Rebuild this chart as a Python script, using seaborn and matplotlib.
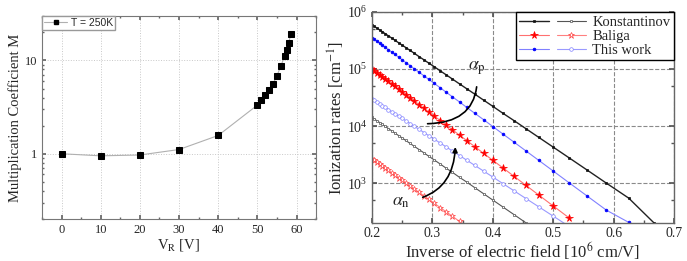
import numpy as np
import pandas as pd
import seaborn as sns
import matplotlib.pyplot as plt
from matplotlib.ticker import LogLocator, MultipleLocator, NullFormatter, FixedLocator
from matplotlib.legend_handler import HandlerTuple
from matplotlib.lines import Line2D

# left panel: multiplication coefficient vs reverse bias
vr = [0, 10, 20, 30, 40, 50, 51, 52, 53, 54, 55, 56, 57, 57.5, 58, 58.5]
mult = [1.0, 0.95, 0.97, 1.11, 1.57, 3.32, 3.76, 4.29, 4.85, 5.62, 6.85, 8.7, 11.2, 12.8, 15.3, 19.0]

# right panel: ionization rates vs inverse field (10^6 cm/V)
inv_field = [0.200, 0.204, 0.208, 0.213, 0.217, 0.222, 0.227, 0.233, 0.238, 0.244,
             0.250, 0.256, 0.263, 0.270, 0.278, 0.286, 0.294, 0.303, 0.313, 0.323,
             0.333, 0.345, 0.357, 0.370, 0.385, 0.400, 0.417, 0.435, 0.455, 0.476,
             0.500, 0.526, 0.556, 0.588, 0.625, 0.667]

konst_p = [597000, 559000, 523000, 482000, 451000, 416000, 383000, 347000, 319000, 289000,
           262000, 238000, 212000, 189000, 165000, 145000, 127000, 110000, 92900, 78900,
           66900, 54800, 45000, 36400, 28400, 22200, 16700, 12500, 8980, 6350,
           4280, 2790, 1700, 1000, 546, 200]
konst_n = [14200, 13300, 12400, 11500, 10700, 9860, 9060, 8200, 7540, 6820,
           6180, 5590, 4970, 4420, 3870, 3390, 2960, 2550, 2160, 1820,
           1550, 1260, 1040, 834, 649, 505, 380, 281, 201]
baliga_p = [100000, 92900, 86300, 78700, 73100, 66700, 60800, 54500, 49700, 44500,
            39800, 35600, 31300, 27500, 23800, 20500, 17700, 15000, 12500, 10400,
            8630, 6920, 5550, 4370, 3310, 2510, 1840, 1320, 912, 619,
            398, 247]
baliga_n = [2690, 2510, 2340, 2140, 2000, 1830, 1680, 1510, 1380, 1250,
            1120, 1010, 893, 791, 687, 597, 520, 444, 372, 313,
            262, 213]
work_p = [356000, 332000, 309000, 282000, 263000, 240000, 219000, 197000, 180000, 162000,
          145000, 130000, 115000, 101000, 87800, 76100, 65900, 56100, 46900, 39100,
          32700, 26400, 21200, 16800, 12900, 9820, 7230, 5240, 3660, 2510,
          1630, 1020, 596, 336, 205]
work_n = [29900, 28100, 26400, 24400, 22900, 21200, 19500, 17800, 16400, 15000,
          13600, 12400, 11100, 9930, 8750, 7710, 6790, 5890, 5040, 4300,
          3670, 3040, 2520, 2050, 1620, 1280, 977, 735, 536, 385,
          264, 175]

sns.set_theme(style="ticks")
plt.rcParams['font.family'] = ['Liberation Serif', 'DejaVu Serif']
plt.rcParams['mathtext.fontset'] = 'stix'
plt.rcParams['xtick.direction'] = 'in'
plt.rcParams['ytick.direction'] = 'in'

fig = plt.figure(figsize=(6.87, 2.61), dpi=100)
ax1 = fig.add_axes([0.0611, 0.161, 0.399, 0.778])
ax2 = fig.add_axes([0.5415, 0.1456, 0.4396, 0.8084])

# ---- left panel
df_m = pd.DataFrame({'vr': vr, 'M': mult})
sns.lineplot(data=df_m, x='vr', y='M', ax=ax1, color='#b0b0b0', lw=0.8,
             marker='s', markersize=3.7, markerfacecolor='black', markeredgecolor='black')
ax1.set_yscale('log')
ax1.set_xlim(-5, 65)
ax1.set_ylim(0.2, 30)
ax1.xaxis.set_major_locator(MultipleLocator(10))
ax1.xaxis.set_minor_locator(MultipleLocator(5))
ax1.yaxis.set_major_locator(FixedLocator([1, 10]))
ax1.yaxis.set_major_formatter(plt.FuncFormatter(lambda v, p: '%g' % v))
ax1.yaxis.set_minor_locator(LogLocator(subs=np.arange(2, 10)))
ax1.yaxis.set_minor_formatter(NullFormatter())
ax1.grid(True, which='major', ls=':', color='#c8c8c8', lw=0.7)
ax1.tick_params(which='both', top=True, right=True, labelsize=9, color='#666666')
ax1.tick_params(which='major', length=3)
ax1.tick_params(which='minor', length=1.5)
for s in ax1.spines.values():
    s.set_color('#777777')
    s.set_linewidth(0.8)
ax1.set_xlabel('V$_\\mathrm{R}$ [V]', fontsize=10.5, labelpad=1)
ax1.set_ylabel('Multiplication Coefficient M', fontsize=10.5, labelpad=2)
h_m = Line2D([], [], color='#b0b0b0', lw=0.8, marker='s', markersize=3.5,
             markerfacecolor='black', markeredgecolor='black')
ax1.legend([h_m], ['T = 250K'], loc='upper left', borderaxespad=0, fancybox=False,
           edgecolor='#999999', framealpha=1,
           prop={'family': 'Liberation Sans', 'size': 7.5},
           handlelength=2.2, handletextpad=0.4, borderpad=0.2)

# ---- right panel
def draw(y, color, marker, ms, mfc, mec, lw=0.8):
    d = pd.DataFrame({'x': inv_field[:len(y)], 'y': y})
    sns.lineplot(data=d, x='x', y='y', ax=ax2, color=color, lw=lw, marker=marker,
                 markersize=ms, markerfacecolor=mfc, markeredgecolor=mec,
                 markeredgewidth=0.5)
    return ax2.lines[-1]

l_kp = draw(konst_p, '#222222', 's', 1.7, '#111111', '#111111', lw=1.0)
l_kn = draw(konst_n, '#555555', 's', 2.0, 'white', '#555555', lw=0.8)
l_bp = draw(baliga_p, '#ff7070', '*', 5.5, '#ff0000', '#ff0000')
l_bn = draw(baliga_n, '#ff8080', '*', 5.0, 'white', '#ff4040')
l_wp = draw(work_p, '#8080ff', 'o', 2.0, '#0000ff', '#0000ff')
l_wn = draw(work_n, '#9a9aff', 'o', 2.6, 'white', '#8080ff')

ax2.set_yscale('log')
ax2.set_xlim(0.2, 0.7)
ax2.set_ylim(200, 1e6)
ax2.xaxis.set_major_locator(MultipleLocator(0.1))
ax2.xaxis.set_minor_locator(MultipleLocator(0.05))
ax2.yaxis.set_major_locator(LogLocator(base=10))
ax2.yaxis.set_minor_locator(LogLocator(subs=[5]))
ax2.yaxis.set_minor_formatter(NullFormatter())
ax2.grid(True, which='major', ls='--', color='#8a8a8a', lw=0.8)
ax2.tick_params(which='both', top=True, right=True, labelsize=10, color='#555555', pad=3)
ax2.tick_params(which='major', length=3.5)
ax2.tick_params(which='minor', length=2)
for s in ax2.spines.values():
    s.set_color('#666666')
    s.set_linewidth(1.0)
ax2.set_xlabel('Inverse of electric field [10$^6$ cm/V]', fontsize=12, labelpad=0)
ax2.set_ylabel('Ionization rates [cm$^{-1}$]', fontsize=12, labelpad=0)

ax2.legend([(l_kp, l_kn), (l_bp, l_bn), (l_wp, l_wn)],
           ['Konstantinov', 'Baliga', 'This work'],
           handler_map={tuple: HandlerTuple(ndivide=None, pad=0.5)},
           loc='upper right', borderaxespad=0, fancybox=False, edgecolor='black',
           framealpha=1, fontsize=10.5, handlelength=4.6, handletextpad=0.4,
           borderpad=0.25, labelspacing=0.05)

ax2.annotate('$\\alpha_\\mathrm{p}$', xy=(0.292, 1.1e4), xytext=(0.373, 1.05e5),
             fontsize=13, ha='center', va='center',
             arrowprops=dict(arrowstyle='-', color='black', lw=1.2,
                             connectionstyle='arc3,rad=-0.55', shrinkA=5, shrinkB=0))
ax2.annotate('$\\alpha_\\mathrm{n}$', xy=(0.338, 4.3e3), xytext=(0.248, 480),
             fontsize=13, ha='center', va='center',
             arrowprops=dict(arrowstyle='-|>', color='black', lw=1.2, mutation_scale=7,
                             connectionstyle='arc3,rad=0.45', shrinkA=7, shrinkB=0))

fig.savefig('out.png', dpi=100)
